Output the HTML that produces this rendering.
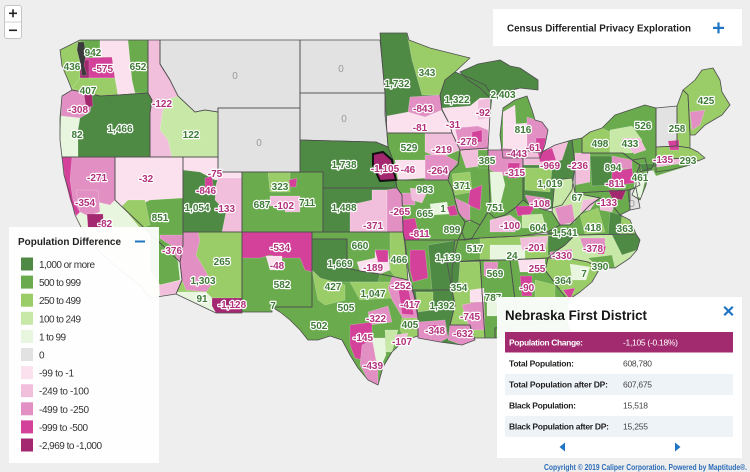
<!DOCTYPE html>
<html><head><meta charset="utf-8"><style>
html,body{margin:0;padding:0;width:750px;height:472px;overflow:hidden;background:#eeeeee}
svg{display:block}
</style></head><body>
<svg width="750" height="472" viewBox="0 0 750 472" xmlns="http://www.w3.org/2000/svg" font-family="Liberation Sans, Arial, sans-serif">
<rect width="750" height="472" fill="#eeeeee"/>
<defs>
<polygon id="wa" points="60,50 70,45 80,40 148,40 148,93 118,95 100,96 88,93 72,90 68,80 62,66"/>
<polygon id="or" points="62,96 72,90 88,93 100,96 118,95 148,93 152,100 150,113 150,157 62,157 60,140 60,118"/>
<polygon id="id" points="148,40 160,40 160,64 170,80 178,96 195,112 205,110 218,112 218,157 150,157 150,113 152,100 148,93"/>
<polygon id="mt" points="160,40 300,40 300,108 218,108 218,112 205,110 195,112 178,96 170,80 160,64"/>
<polygon id="nd" points="300,40 380,40 382,60 385,93 300,93"/>
<polygon id="sd" points="300,93 385,93 385,115 387,133 388,147 376,142 300,140"/>
<polygon id="wy" points="218,108 300,108 300,172 218,172"/>
<polygon id="ne" points="300,140 376,142 388,147 393,160 397,188 323,188 323,172 300,172"/>
<polygon id="ks" points="323,188 397,188 402,195 403,232 323,232"/>
<polygon id="co" points="242,172 323,172 323,232 242,232"/>
<polygon id="ut" points="183,157 218,157 218,172 242,172 242,232 183,232"/>
<polygon id="nv" points="115,157 183,157 183,245 180,262 115,200"/>
<polygon id="ca" points="62,157 115,157 115,200 180,262 182,280 176,294 150,298 140,285 120,270 100,252 85,235 75,215 70,195 64,175"/>
<polygon id="az" points="183,232 242,232 242,313 216,313 176,294 182,280 180,262 183,245"/>
<polygon id="nm" points="242,232 312,232 312,307 272,307 272,312 242,312"/>
<polygon id="ok" points="312,232 403,232 405,245 408,280 395,277 380,274 360,271 347,268 347,239 312,239"/>
<polygon id="tx" points="312,239 347,239 347,268 360,271 380,274 395,277 408,280 412,290 416,300 418,318 418,336 405,340 392,352 383,367 378,385 368,380 358,368 350,355 342,340 330,336 318,340 308,340 300,330 290,320 280,312 272,307 312,307"/>
<polygon id="mn" points="380,33 407,33 409,40 430,48 470,58 455,72 445,80 440,95 442,110 450,125 452,133 387,133 385,93 382,60"/>
<polygon id="wi" points="440,95 445,80 455,72 470,78 485,85 492,95 490,115 488,148 460,150 452,133 450,125 442,110"/>
<polygon id="miu" points="460,72 478,64 500,60 510,66 520,68 538,80 538,90 520,88 505,92 490,98 480,88 468,80"/>
<polygon id="mil" points="503,108 515,100 527,96 532,110 535,120 542,122 548,130 545,145 540,158 503,158 500,135"/>
<polygon id="ia" points="387,133 452,133 460,150 458,165 450,172 448,180 395,180 393,160 388,147"/>
<polygon id="mo" points="395,180 448,180 452,188 455,200 458,212 465,222 462,232 458,240 405,240 403,232 402,195 397,188"/>
<polygon id="il" points="460,150 488,148 488,155 490,200 488,212 480,225 472,238 465,240 462,232 465,222 458,212 455,200 452,188 448,180 450,172 458,165"/>
<polygon id="in" points="488,150 523,150 523,200 515,208 505,215 495,218 488,212 490,200 488,155"/>
<polygon id="oh" points="523,150 540,153 555,145 572,140 575,165 572,190 562,205 545,210 530,205 523,200"/>
<polygon id="ky" points="458,240 462,232 465,222 470,220 480,225 488,212 495,218 505,215 515,208 523,200 530,205 545,210 552,212 560,225 548,232 520,236 480,238 465,240"/>
<polygon id="tn" points="452,262 455,240 480,238 520,236 548,234 575,235 565,245 555,252 548,258"/>
<polygon id="pa" points="572,140 582,138 582,153 623,153 632,160 640,165 636,175 640,185 630,190 575,193 575,165"/>
<polygon id="ny" points="582,138 590,132 602,128 615,115 630,110 645,105 656,108 656,130 656,158 652,168 640,172 640,165 632,160 623,153 582,153"/>
<polygon id="vt" points="656,108 677,106 677,146 656,147"/>
<polygon id="nh" points="677,106 683,90 688,95 690,135 690,148 677,146"/>
<polygon id="me" points="683,90 695,80 702,70 713,68 720,80 722,92 730,105 722,115 705,125 695,135 690,135 688,95"/>
<polygon id="ma" points="656,147 677,146 690,148 698,152 705,158 698,161 685,158 656,160"/>
<polygon id="ct" points="656,160 685,158 690,165 670,170 656,172"/>
<polygon id="nj" points="632,160 645,158 648,170 646,185 640,200 632,195 636,185 636,175 640,165"/>
<polygon id="de" points="628,190 636,188 640,208 630,210"/>
<polygon id="md" points="575,193 630,190 630,210 620,215 612,205 600,198 590,196"/>
<polygon id="wv" points="555,180 572,178 575,193 590,196 600,198 590,205 580,215 570,225 560,225 552,212"/>
<polygon id="va" points="560,225 570,225 580,215 590,205 600,198 612,205 620,215 630,220 636,234 575,235 548,234 548,232"/>
<polygon id="nc" points="548,258 555,252 565,245 575,235 636,234 640,240 637,250 630,258 615,268 600,268 588,262 568,258"/>
<polygon id="sc" points="548,258 568,258 588,262 600,268 592,282 580,292 568,300 560,290 545,270"/>
<polygon id="ga" points="510,260 548,258 545,270 560,290 568,300 566,320 520,325 515,300"/>
<polygon id="al" points="480,260 510,260 515,300 520,325 495,328 495,338 485,338"/>
<polygon id="ms" points="447,262 452,262 480,260 485,338 472,338 470,325 450,325 455,305 452,290"/>
<polygon id="la" points="413,290 452,290 455,305 450,325 470,325 475,340 462,345 440,342 418,338 418,318"/>
<polygon id="ar" points="405,240 458,240 455,252 452,270 452,290 413,290 410,278 408,268"/>
<polygon id="fl" points="495,328 520,325 566,320 570,330 575,345 560,340 540,335 515,336 495,338"/>
</defs>

<!-- base fills -->
<g>
<use href="#wa" fill="#9acc67"/><use href="#or" fill="#4f8a45"/><use href="#id" fill="#f1bfdc"/>
<use href="#mt" fill="#e2e2e2"/><use href="#nd" fill="#e2e2e2"/><use href="#sd" fill="#e2e2e2"/><use href="#wy" fill="#e2e2e2"/>
<use href="#ne" fill="#4f8a45"/><use href="#ks" fill="#4f8a45"/><use href="#co" fill="#6aab4d"/><use href="#ut" fill="#4f8a45"/>
<use href="#nv" fill="#6aab4d"/><use href="#ca" fill="#e9f6df"/><use href="#az" fill="#9acc67"/><use href="#nm" fill="#6aab4d"/>
<use href="#ok" fill="#6aab4d"/><use href="#tx" fill="#6aab4d"/><use href="#mn" fill="#4f8a45"/><use href="#wi" fill="#4f8a45"/>
<use href="#miu" fill="#4f8a45"/><use href="#mil" fill="#6aab4d"/><use href="#ia" fill="#6aab4d"/><use href="#mo" fill="#6aab4d"/>
<use href="#il" fill="#6aab4d"/><use href="#in" fill="#6aab4d"/><use href="#oh" fill="#4f8a45"/><use href="#ky" fill="#6aab4d"/>
<use href="#tn" fill="#9acc67"/><use href="#pa" fill="#6aab4d"/><use href="#ny" fill="#6aab4d"/><use href="#vt" fill="#e2e2e2"/>
<use href="#nh" fill="#9acc67"/><use href="#me" fill="#9acc67"/><use href="#ma" fill="#9acc67"/><use href="#ct" fill="#f1bfdc"/>
<use href="#nj" fill="#6aab4d"/><use href="#de" fill="#e2e2e2"/><use href="#md" fill="#6aab4d"/><use href="#wv" fill="#c8e8a8"/>
<use href="#va" fill="#6aab4d"/><use href="#nc" fill="#c8e8a8"/><use href="#sc" fill="#9acc67"/><use href="#ga" fill="#6aab4d"/>
<use href="#al" fill="#6aab4d"/><use href="#ms" fill="#9acc67"/><use href="#la" fill="#4f8a45"/><use href="#ar" fill="#6aab4d"/>
<use href="#fl" fill="#6aab4d"/>
</g>

<!-- districts -->
<g stroke="#ffffff" stroke-opacity="0.35" stroke-width="0.5">
<polygon points="60,50 70,45 80,42 82,58 80,78 72,88 68,80 62,66" fill="#9acc67"/>
<polygon points="80,40 100,40 100,57 82,58" fill="#6aab4d"/>
<polygon points="82,58 112,57 115,78 80,78" fill="#d3419a"/>
<polygon points="80,60 89,60 89,78 80,78" fill="#a3286f"/>
<polygon points="72,88 80,78 115,78 118,95 100,96 88,93" fill="#9acc67"/>
<polygon points="100,40 128,40 132,80 135,93 118,95 115,78 112,57 100,57" fill="#fbe1ee"/>
<polygon points="128,40 148,40 148,93 135,93 132,80" fill="#6aab4d"/>
<polygon points="78,42 84,42 86,55 84,65 87,75 82,76 80,62 77,50" fill="#3a3a3a"/>
<polygon points="62,96 72,90 88,93 92,100 90,112 80,118 61,116" fill="#e290c3"/>
<polygon points="84,94 92,95 93,106 86,108" fill="#a3286f"/>
<polygon points="61,116 80,118 78,130 78,157 62,157 60,140" fill="#e9f6df"/>
<polygon points="165,100 178,96 195,112 205,110 218,112 218,157 172,157 168,140 160,130 162,115" fill="#c8e8a8"/>
<polygon points="350,205 372,200 372,190 387,190 387,232 350,232" fill="#f1bfdc"/>
<polygon points="387,190 397,188 402,195 403,232 387,232" fill="#e290c3"/>
<polygon points="268,172 290,172 290,192 270,192" fill="#9acc67"/>
<polygon points="270,196 300,196 300,212 285,212 285,206 270,206" fill="#f1bfdc"/>
<polygon points="289,180 297,178 296,187 290,187" fill="#d3419a"/>
<polygon points="183,157 218,157 218,172 242,172 242,180 215,180 200,172 183,170" fill="#fbe1ee"/>
<polygon points="218,178 242,178 242,232 222,232 226,212 215,200 216,185" fill="#f1bfdc"/>
<polygon points="205,178 212,176 214,194 205,194" fill="#d3419a"/>
<polygon points="115,157 183,157 183,198 150,200 140,205 128,213 115,200" fill="#fbe1ee"/>
<polygon points="128,200 145,200 150,225 140,228 122,206" fill="#9acc67"/>
<polygon points="160,235 183,235 183,245 180,262 172,255 160,243" fill="#e290c3"/>
<polygon points="62,157 115,157 115,200 110,205 97,202 80,212 72,200 66,180" fill="#e290c3"/>
<polygon points="62,157 72,157 70,180 73,200 80,212 76,216 70,200 65,180" fill="#d3419a"/>
<polygon points="76,190 98,190 100,212 88,216 80,212" fill="#e290c3"/>
<polygon points="87,214 103,214 104,228 88,228" fill="#a3286f"/>
<polygon points="150,232 172,246 178,262 180,280 160,285 150,270" fill="#6aab4d"/>
<polygon points="159,285 182,280 176,294 160,296" fill="#f1bfdc"/>
<polygon points="183,232 198,232 200,240 196,255 205,270 212,284 206,292 186,290 182,280 180,262 183,245" fill="#e290c3"/>
<polygon points="176,292 206,292 216,302 216,313 176,294" fill="#e9f6df"/>
<polygon points="212,298 242,298 242,313 216,313 212,306" fill="#a3286f"/>
<polygon points="242,232 312,232 312,272 305,270 300,258 280,258 270,255 260,258 242,258" fill="#d3419a"/>
<polygon points="266,256 282,256 282,270 270,270" fill="#fbe1ee"/>
<polygon points="390,232 403,232 405,245 408,280 395,277 390,270" fill="#9acc67"/>
<polygon points="357,262 375,258 375,250 388,250 390,270 380,274 360,271" fill="#fbe1ee"/>
<polygon points="375,250 388,250 388,262 378,262" fill="#d3419a"/>
<polygon points="312,239 347,239 347,268 360,271 380,274 378,282 350,282 325,282 318,276 312,270" fill="#4f8a45"/>
<polygon points="312,270 320,278 335,282 345,285 345,300 325,305 318,300" fill="#9acc67"/>
<polygon points="350,282 390,282 392,298 360,300" fill="#9acc67"/>
<polygon points="392,277 408,280 412,290 416,300 418,318 405,322 398,310 392,300 388,288" fill="#e290c3"/>
<polygon points="398,288 408,287 414,315 402,314 400,300" fill="#d3419a"/>
<polygon points="368,312 388,306 392,322 370,325" fill="#e290c3"/>
<polygon points="402,318 418,318 418,336 405,340 400,330" fill="#9acc67"/>
<polygon points="350,325 372,322 372,332 368,345 362,360 355,358 350,345" fill="#d3419a"/>
<polygon points="362,345 372,340 378,360 378,385 368,380 360,365" fill="#e290c3"/>
<polygon points="372,338 385,338 386,355 380,368 376,360" fill="#e9f6df"/>
<polygon points="385,330 398,330 392,352 386,352" fill="#c8e8a8"/>
<polygon points="395,335 408,333 405,342 395,345" fill="#f1bfdc"/>
<polygon points="407,33 409,40 430,48 470,58 455,72 445,80 440,95 422,95 412,60" fill="#9acc67"/>
<polygon points="410,97 440,95 442,110 425,117 408,112" fill="#e290c3"/>
<polygon points="387,116 408,112 425,117 442,110 450,125 452,133 387,133" fill="#fbe1ee"/>
<polygon points="442,108 470,106 480,98 490,98 490,115 488,148 460,150 452,133 450,125" fill="#fbe1ee"/>
<polygon points="478,100 490,98 490,118 478,120" fill="#f1bfdc"/>
<polygon points="455,128 478,126 488,130 488,148 460,150" fill="#e290c3"/>
<polygon points="472,132 482,130 482,142 472,142" fill="#d3419a"/>
<polygon points="503,112 515,105 516,125 503,128" fill="#fbe1ee"/>
<polygon points="503,125 527,123 527,150 503,150" fill="#fbe1ee"/>
<polygon points="527,117 542,122 548,130 545,145 540,155 527,152" fill="#e290c3"/>
<polygon points="536,138 546,138 543,152 536,152" fill="#d3419a"/>
<polygon points="500,148 530,150 540,158 503,158" fill="#e290c3"/>
<polygon points="425,133 452,133 460,150 440,158 425,152" fill="#f1bfdc"/>
<polygon points="425,155 445,155 458,162 450,172 448,180 425,180" fill="#e290c3"/>
<polygon points="395,160 425,160 425,178 398,180" fill="#fbe1ee"/>
<polygon points="402,220 415,218 420,240 405,240 403,232" fill="#d3419a"/>
<polygon points="402,193 415,193 415,205 402,205" fill="#e290c3"/>
<polygon points="430,204 447,202 449,214 432,215" fill="#e9f6df"/>
<polygon points="447,207 455,205 458,215 450,216" fill="#d3419a"/>
<polygon points="410,188 428,190 422,203 412,200" fill="#f1bfdc"/>
<polygon points="428,245 458,240 455,252 452,270 452,290 432,290" fill="#4f8a45"/>
<polygon points="410,250 425,250 428,278 413,282 410,270" fill="#d3419a"/>
<polygon points="460,150 488,148 488,165 466,168" fill="#f1bfdc"/>
<polygon points="452,174 470,172 472,192 455,195" fill="#9acc67"/>
<polygon points="470,190 482,185 480,210 468,205" fill="#d3419a"/>
<polygon points="455,198 470,205 470,222 460,215" fill="#e290c3"/>
<polygon points="478,150 488,150 488,168 478,168" fill="#6aab4d"/>
<polygon points="488,150 523,150 523,172 505,176 490,170" fill="#e290c3"/>
<polygon points="490,172 502,172 505,185 500,205 492,205" fill="#e9f6df"/>
<polygon points="508,163 520,163 518,178 508,178" fill="#d3419a"/>
<polygon points="523,150 540,153 555,145 568,142 562,160 540,165 523,165" fill="#f1bfdc"/>
<polygon points="538,153 552,148 556,160 540,162" fill="#d3419a"/>
<polygon points="525,168 552,168 550,192 525,190" fill="#9acc67"/>
<polygon points="525,195 545,198 548,210 530,206" fill="#e290c3"/>
<polygon points="490,220 510,215 520,222 515,232 490,232" fill="#f1bfdc"/>
<polygon points="515,206 535,206 530,215 518,216" fill="#d3419a"/>
<polygon points="522,215 542,214 546,228 522,228" fill="#c8e8a8"/>
<polygon points="455,240 480,238 480,262 452,262" fill="#6aab4d"/>
<polygon points="490,245 525,245 525,260 490,260" fill="#e9f6df"/>
<polygon points="520,238 548,236 545,252 522,250" fill="#f1bfdc"/>
<polygon points="548,236 575,235 565,245 555,252 548,256" fill="#4f8a45"/>
<polygon points="555,208 572,204 575,222 560,225" fill="#e290c3"/>
<polygon points="583,200 598,198 590,210 580,212" fill="#f1bfdc"/>
<polygon points="580,215 598,208 605,232 585,234" fill="#9acc67"/>
<polygon points="600,198 615,202 612,212 600,210" fill="#f1bfdc"/>
<polygon points="548,232 575,229 578,235 548,235" fill="#4f8a45"/>
<polygon points="620,216 630,220 636,234 620,235" fill="#9acc67"/>
<polygon points="610,212 622,215 620,235 608,235" fill="#4f8a45"/>
<polygon points="608,190 626,190 622,200 612,198" fill="#a3286f"/>
<polygon points="575,153 590,153 590,182 575,185" fill="#f1bfdc"/>
<polygon points="590,156 612,156 612,185 592,186" fill="#4f8a45"/>
<polygon points="612,172 632,168 634,183 612,186" fill="#d3419a"/>
<polygon points="612,156 632,160 632,168 612,170" fill="#e290c3"/>
<polygon points="582,138 590,132 602,128 610,132 610,153 582,153" fill="#9acc67"/>
<polygon points="610,130 632,126 642,140 632,153 610,153" fill="#c8e8a8"/>
<polygon points="622,138 640,138 646,150 634,154" fill="#f1bfdc"/>
<polygon points="640,164 656,163 656,170 642,172" fill="#4f8a45"/>
<polygon points="652,168 690,162 688,166 656,176" fill="#6aab4d"/>
<polygon points="690,112 705,110 700,125 692,130" fill="#e290c3"/>
<polygon points="668,141 679,140 679,150 670,150" fill="#d3419a"/>
<polygon points="635,180 645,180 641,198 633,195" fill="#e9f6df"/>
<polygon points="580,238 605,238 605,252 585,252" fill="#e290c3"/>
<polygon points="598,248 606,246 604,254 598,254" fill="#d3419a"/>
<polygon points="550,252 572,249 572,260 550,259" fill="#e290c3"/>
<polygon points="588,258 612,255 615,268 600,268" fill="#6aab4d"/>
<polygon points="612,235 636,234 640,240 637,250 622,255" fill="#4f8a45"/>
<polygon points="570,264 590,267 586,280 572,280" fill="#e9f6df"/>
<polygon points="563,290 575,288 570,300" fill="#d3419a"/>
<polygon points="518,260 545,259 545,272 520,272" fill="#fbe1ee"/>
<polygon points="520,276 532,276 532,296 522,296" fill="#d3419a"/>
<polygon points="535,280 555,285 555,300 535,300" fill="#9acc67"/>
<polygon points="487,300 498,300 498,316 487,316" fill="#e9f6df"/>
<polygon points="484,262 498,262 497,276 484,276" fill="#e290c3"/>
<polygon points="462,305 484,300 485,330 470,330" fill="#e290c3"/>
<polygon points="470,290 484,288 484,302 470,302" fill="#fbe1ee"/>
<polygon points="447,262 460,262 458,290 452,290" fill="#4f8a45"/>
<polygon points="418,322 445,320 448,338 440,342 418,338" fill="#e290c3"/>
<polygon points="450,325 470,325 475,340 462,345 448,340" fill="#e290c3"/>
<polygon points="416,292 433,292 433,310 418,312" fill="#9acc67"/>
<polygon points="428,325 438,325 438,334 430,334" fill="#d3419a"/>
</g>

<!-- state outlines -->
<g fill="none" stroke="#4e4e4e" stroke-width="0.8" stroke-linejoin="round">
<use href="#wa"/><use href="#or"/><use href="#id"/><use href="#mt"/><use href="#nd"/><use href="#sd"/><use href="#wy"/>
<use href="#ne"/><use href="#ks"/><use href="#co"/><use href="#ut"/><use href="#nv"/><use href="#ca"/><use href="#az"/>
<use href="#nm"/><use href="#ok"/><use href="#tx"/><use href="#mn"/><use href="#wi"/><use href="#miu"/><use href="#mil"/>
<use href="#ia"/><use href="#mo"/><use href="#il"/><use href="#in"/><use href="#oh"/><use href="#ky"/><use href="#tn"/>
<use href="#pa"/><use href="#ny"/><use href="#vt"/><use href="#nh"/><use href="#me"/><use href="#ma"/><use href="#ct"/>
<use href="#nj"/><use href="#de"/><use href="#md"/><use href="#wv"/><use href="#va"/><use href="#nc"/><use href="#sc"/>
<use href="#ga"/><use href="#al"/><use href="#ms"/><use href="#la"/><use href="#ar"/><use href="#fl"/>
</g>
<polygon points="373,154 383,152 392,160 394,172 396,180 380,181 376,172 373,165" fill="#a3286f" stroke="#111" stroke-width="2"/>

<!-- zero labels -->
<g font-size="10" fill="#9a9a9a" text-anchor="middle">
<text x="235" y="79">0</text><text x="341" y="72">0</text><text x="344" y="122">0</text><text x="259" y="146">0</text><text x="632" y="207">0</text>
</g>
<!-- value labels -->
<g font-size="10" font-weight="bold" text-anchor="middle" stroke="#ffffff" stroke-width="2.4" stroke-linejoin="round" paint-order="stroke">
<g fill="#3d7b36">
<text x="93" y="56">942</text><text x="72" y="70">436</text><text x="138" y="70">652</text><text x="88" y="94">407</text>
<text x="77" y="138">82</text><text x="120" y="132">1,466</text><text x="191" y="138">122</text>
<text x="160" y="221">851</text><text x="197" y="211">1,054</text>
<text x="280" y="190">323</text><text x="262" y="208">687</text><text x="307" y="206">711</text>
<text x="344" y="168">1,738</text><text x="344" y="211">1,488</text>
<text x="409" y="151">529</text><text x="397" y="87">1,732</text><text x="427" y="76">343</text>
<text x="457" y="103">1,322</text><text x="487" y="164">385</text><text x="503" y="98">2,403</text><text x="523" y="133">816</text>
<text x="462" y="189">371</text><text x="425" y="193">983</text><text x="425" y="217">665</text><text x="443" y="212">1</text><text x="452" y="233">899</text>
<text x="495" y="211">751</text><text x="550" y="187">1,019</text>
<text x="613" y="171">894</text><text x="600" y="147">498</text><text x="630" y="147">433</text><text x="643" y="129">526</text>
<text x="706" y="104">425</text><text x="677" y="132">258</text><text x="688" y="164">293</text><text x="640" y="181">461</text>
<text x="577" y="201">67</text><text x="593" y="231">418</text><text x="565" y="236">1,541</text><text x="625" y="232">363</text>
<text x="538" y="231">604</text><text x="475" y="252">517</text><text x="512" y="259">24</text>
<text x="600" y="270">390</text><text x="563" y="284">364</text><text x="584" y="277">7</text>
<text x="495" y="277">569</text><text x="493" y="301">787</text><text x="459" y="291">354</text>
<text x="442" y="309">1,392</text><text x="448" y="261">1,139</text>
<text x="360" y="249">660</text><text x="399" y="263">466</text>
<text x="340" y="267">1,669</text><text x="333" y="290">427</text><text x="373" y="297">1,047</text><text x="346" y="311">505</text>
<text x="410" y="328">405</text><text x="319" y="329">502</text>
<text x="282" y="288">582</text><text x="273" y="309">7</text>
<text x="222" y="265">265</text><text x="203" y="284">1,303</text><text x="202" y="302">91</text>
</g>
<g fill="#b3307c">
<text x="103" y="72">-575</text><text x="78" y="113">-308</text><text x="162" y="107">-122</text>
<text x="97" y="181">-271</text><text x="85" y="206">-354</text><text x="105" y="227">-82</text>
<text x="146" y="182">-32</text><text x="215" y="177">-75</text><text x="206" y="194">-846</text><text x="225" y="212">-133</text>
<text x="284" y="209">-102</text><text x="385" y="172">-1,105</text><text x="408" y="173">-46</text>
<text x="400" y="215">-265</text><text x="373" y="229">-371</text>
<text x="442" y="153">-219</text><text x="438" y="174">-264</text><text x="423" y="112">-843</text><text x="420" y="131">-81</text>
<text x="483" y="116">-92</text><text x="453" y="128">-31</text><text x="467" y="145">-278</text>
<text x="533" y="151">-61</text><text x="517" y="157">-443</text>
<text x="420" y="237">-811</text><text x="515" y="176">-315</text><text x="550" y="169">-969</text><text x="540" y="207">-108</text>
<text x="578" y="169">-236</text><text x="615" y="187">-811</text><text x="663" y="163">-135</text>
<text x="607" y="206">-133</text><text x="510" y="229">-100</text><text x="535" y="251">-201</text>
<text x="593" y="252">-378</text><text x="562" y="259">-330</text><text x="537" y="272">255</text><text x="527" y="291">-90</text>
<text x="470" y="320">-745</text><text x="435" y="334">-348</text><text x="463" y="337">-632</text>
<text x="373" y="271">-189</text><text x="401" y="289">-252</text><text x="410" y="308">-417</text><text x="376" y="322">-322</text>
<text x="363" y="341">-145</text><text x="402" y="345">-107</text><text x="373" y="369">-439</text>
<text x="280" y="251">-534</text><text x="277" y="269">-48</text>
<text x="172" y="254">-376</text><text x="232" y="308">-1,128</text>
</g>
</g>

<!-- zoom control -->
<rect x="4.5" y="5.5" width="17" height="33" rx="2.5" fill="#ffffff" stroke="#c4c4c4" stroke-width="1"/>
<line x1="5" y1="22" x2="21" y2="22" stroke="#d0d0d0" stroke-width="1"/>
<rect x="9" y="12.5" width="8" height="1.6" fill="#222"/><rect x="12.2" y="9.3" width="1.6" height="8" fill="#222"/>
<rect x="9" y="29.5" width="8" height="1.6" fill="#222"/>

<!-- top right title box -->
<rect x="493" y="9" width="249" height="37" fill="#ffffff"/>
<text x="507" y="31.5" font-size="10.5" font-weight="bold" fill="#222" textLength="184" lengthAdjust="spacingAndGlyphs">Census Differential Privacy Exploration</text>
<rect x="713" y="26.8" width="11" height="2.2" fill="#1f74c4"/><rect x="717.4" y="22.4" width="2.2" height="11" fill="#1f74c4"/>

<!-- legend -->
<rect x="9" y="227" width="150" height="236" fill="#ffffff" fill-opacity="0.94"/>
<text x="18" y="245" font-size="10" font-weight="bold" fill="#222" textLength="103" lengthAdjust="spacingAndGlyphs">Population Difference</text>
<rect x="135" y="240.5" width="10" height="2" fill="#1f74c4"/>
<g>
<rect x="21" y="257.5" width="12" height="13" fill="#4f8a45"/>
<rect x="21" y="275.6" width="12" height="13" fill="#6aab4d"/>
<rect x="21" y="293.7" width="12" height="13" fill="#9acc67"/>
<rect x="21" y="311.8" width="12" height="13" fill="#c8e8a8"/>
<rect x="21" y="329.9" width="12" height="13" fill="#e9f6df"/>
<rect x="21" y="348" width="12" height="13" fill="#e2e2e2"/>
<rect x="21" y="366.1" width="12" height="13" fill="#fbe1ee"/>
<rect x="21" y="384.2" width="12" height="13" fill="#f1bfdc"/>
<rect x="21" y="402.3" width="12" height="13" fill="#e290c3"/>
<rect x="21" y="420.4" width="12" height="13" fill="#d3419a"/>
<rect x="21" y="438.5" width="12" height="13" fill="#a3286f"/>
</g>
<g font-size="10" fill="#333" lengthAdjust="spacingAndGlyphs">
<text x="39" y="268" textLength="56">1,000 or more</text>
<text x="39" y="286.1" textLength="42">500 to 999</text>
<text x="39" y="304.2" textLength="42">250 to 499</text>
<text x="39" y="322.3" textLength="42">100 to 249</text>
<text x="39" y="340.4" textLength="27">1 to 99</text>
<text x="39" y="358.5">0</text>
<text x="39" y="376.6" textLength="35">-99 to -1</text>
<text x="39" y="394.7" textLength="50">-249 to -100</text>
<text x="39" y="412.8" textLength="50">-499 to -250</text>
<text x="39" y="430.9" textLength="49">-999 to -500</text>
<text x="39" y="449" textLength="63">-2,969 to -1,000</text>
</g>

<!-- info panel -->
<rect x="497" y="297" width="245" height="161" fill="#ffffff" fill-opacity="0.95"/>
<text x="505" y="320" font-size="14" font-weight="bold" fill="#151515" textLength="142" lengthAdjust="spacingAndGlyphs">Nebraska First District</text>
<g stroke="#1f74c4" stroke-width="2.2" stroke-linecap="square"><line x1="725" y1="307.5" x2="732" y2="314.5"/><line x1="732" y1="307.5" x2="725" y2="314.5"/></g>
<rect x="505" y="332" width="228" height="20.5" fill="#a22b70"/>
<rect x="505" y="374" width="228" height="21" fill="#eef3f8"/>
<rect x="505" y="416" width="228" height="21" fill="#eef3f8"/>
<g font-size="8.5" lengthAdjust="spacingAndGlyphs">
<text x="509" y="345.5" font-weight="bold" fill="#ffffff" textLength="74">Population Change:</text>
<text x="623" y="345.5" fill="#ffffff" textLength="55">-1,105 (-0.18%)</text>
<text x="509" y="366.5" font-weight="bold" fill="#222" textLength="65">Total Population:</text>
<text x="623" y="366.5" fill="#444" textLength="29">608,780</text>
<text x="509" y="387.5" font-weight="bold" fill="#222" textLength="99">Total Population after DP:</text>
<text x="623" y="387.5" fill="#444" textLength="29">607,675</text>
<text x="509" y="408.5" font-weight="bold" fill="#222" textLength="67">Black Population:</text>
<text x="623" y="408.5" fill="#444" textLength="25">15,518</text>
<text x="509" y="429.5" font-weight="bold" fill="#222" textLength="100">Black Population after DP:</text>
<text x="623" y="429.5" fill="#444" textLength="25">15,255</text>
</g>
<polygon points="565,442.5 565,451.5 559.5,447" fill="#1f74c4"/>
<polygon points="675,442.5 675,451.5 680.5,447" fill="#1f74c4"/>

<!-- copyright -->
<text x="544" y="470" font-size="8" font-weight="bold" fill="#2b6cb8" textLength="203" lengthAdjust="spacingAndGlyphs">Copyright © 2019 Caliper Corporation.  Powered by Maptitude®.</text>
</svg>
</body></html>
